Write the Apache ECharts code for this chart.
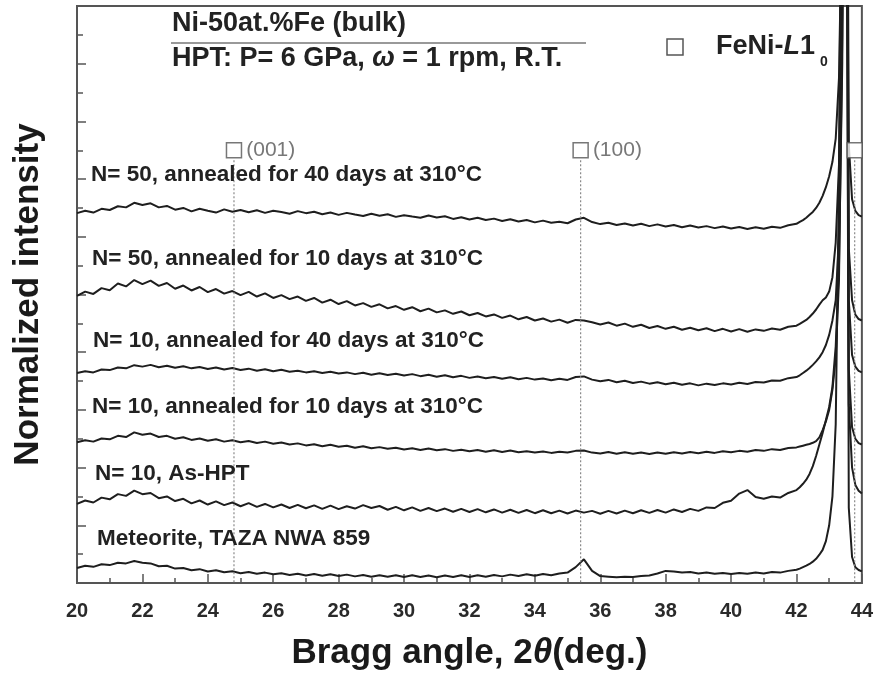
<!DOCTYPE html>
<html><head><meta charset="utf-8">
<script src="https://cdn.jsdelivr.net/npm/echarts@6/dist/echarts.min.js"></script>
<style>html,body{margin:0;padding:0;background:#fff}#c{width:876px;height:684px}</style>
</head><body><div id="c"></div>
<script>
// 2-theta angles (deg)
const angles = [20.00,20.25,20.50,20.75,21.00,21.25,21.50,21.75,22.00,22.25,22.50,22.75,23.00,23.25,23.50,23.75,24.00,24.25,24.50,24.75,25.00,25.25,25.50,25.75,26.00,26.25,26.50,26.75,27.00,27.25,27.50,27.75,28.00,28.25,28.50,28.75,29.00,29.25,29.50,29.75,30.00,30.25,30.50,30.75,31.00,31.25,31.50,31.75,32.00,32.25,32.50,32.75,33.00,33.25,33.50,33.75,34.00,34.25,34.50,34.75,35.00,35.25,35.50,35.75,36.00,36.25,36.50,36.75,37.00,37.25,37.50,37.75,38.00,38.25,38.50,38.75,39.00,39.25,39.50,39.75,40.00,40.25,40.50,40.75,41.00,41.25,41.50,41.75,42.00,
42.1,42.2,42.3,42.4,42.5,42.6,42.7,42.8,42.9,43.0,43.1,43.2,43.3,43.4,43.5,43.6,43.7,43.8,43.9,44.0];

// Normalized intensity (stacked, offset) for each pattern
const n50_40d = [12.82,12.90,12.84,12.97,12.93,13.06,13.02,13.18,13.10,13.16,13.02,13.07,12.94,13.00,12.88,12.97,12.90,12.84,12.95,12.87,12.93,12.85,12.92,12.83,12.90,12.86,12.80,12.89,12.82,12.87,12.78,12.84,12.76,12.83,12.77,12.72,12.80,12.73,12.78,12.69,12.75,12.70,12.66,12.74,12.67,12.71,12.62,12.68,12.60,12.66,12.58,12.63,12.55,12.61,12.53,12.58,12.50,12.56,12.49,12.52,12.47,12.60,12.66,12.51,12.44,12.49,12.41,12.46,12.39,12.45,12.37,12.43,12.36,12.41,12.33,12.39,12.32,12.37,12.30,12.36,12.29,12.34,12.27,12.33,12.28,12.35,12.31,12.40,12.45,
12.52,12.58,12.66,12.76,12.86,13.00,13.18,13.42,13.72,14.10,14.60,15.40,17.50,24.0,40.0,15.2,13.3,12.9,12.75,12.7];

const n50_10d = [9.95,10.10,10.02,10.22,10.15,10.38,10.28,10.50,10.36,10.48,10.30,10.40,10.20,10.31,10.14,10.26,10.08,10.19,10.03,10.12,9.98,10.09,9.93,10.04,9.88,9.98,9.84,9.93,9.78,9.88,9.72,9.82,9.67,9.77,9.62,9.70,9.57,9.66,9.52,9.60,9.47,9.56,9.42,9.51,9.38,9.45,9.33,9.41,9.28,9.36,9.24,9.31,9.19,9.27,9.14,9.22,9.10,9.17,9.06,9.13,9.02,9.12,9.10,9.04,8.96,9.03,8.92,8.99,8.88,8.95,8.84,8.91,8.81,8.88,8.78,8.85,8.76,8.83,8.73,8.81,8.72,8.80,8.71,8.79,8.74,8.82,8.78,8.88,8.92,
8.98,9.05,9.12,9.22,9.34,9.48,9.65,9.80,9.90,10.10,10.60,11.80,14.50,23.0,40.0,11.6,9.8,9.3,9.15,9.1];

const n10_40d = [7.28,7.34,7.30,7.40,7.38,7.47,7.44,7.55,7.50,7.56,7.48,7.53,7.46,7.51,7.44,7.49,7.42,7.47,7.40,7.45,7.38,7.43,7.36,7.41,7.34,7.39,7.32,7.36,7.30,7.34,7.28,7.32,7.26,7.30,7.24,7.29,7.22,7.27,7.21,7.25,7.19,7.24,7.17,7.22,7.15,7.20,7.13,7.18,7.11,7.16,7.10,7.14,7.08,7.13,7.06,7.11,7.05,7.09,7.03,7.08,7.04,7.14,7.16,7.05,6.99,7.04,6.96,7.01,6.93,6.98,6.91,6.96,6.89,6.94,6.87,6.92,6.85,6.91,6.86,6.92,6.88,6.94,6.90,6.97,6.95,7.02,7.01,7.10,7.14,
7.20,7.28,7.36,7.45,7.56,7.68,7.82,8.00,8.25,8.60,9.10,9.80,12.0,20.0,40.0,9.8,7.9,7.5,7.35,7.3];

const n10_10d = [4.88,4.95,4.90,5.01,4.98,5.10,5.06,5.22,5.14,5.18,5.06,5.10,5.00,5.05,4.96,5.01,4.93,4.98,4.90,4.95,4.88,4.92,4.85,4.90,4.83,4.87,4.80,4.84,4.77,4.81,4.74,4.79,4.72,4.76,4.69,4.74,4.67,4.71,4.65,4.69,4.63,4.67,4.61,4.66,4.60,4.64,4.58,4.62,4.57,4.61,4.55,4.60,4.54,4.59,4.53,4.57,4.52,4.56,4.51,4.55,4.52,4.58,4.59,4.52,4.49,4.54,4.48,4.53,4.48,4.52,4.47,4.52,4.48,4.53,4.49,4.54,4.50,4.55,4.51,4.57,4.53,4.58,4.55,4.61,4.58,4.64,4.61,4.68,4.70,
4.73,4.76,4.79,4.82,4.86,4.92,5.05,5.30,5.60,6.00,6.70,7.80,10.5,19.0,40.0,7.4,5.4,5.0,4.85,4.8];

const n10_asHPT = [2.74,2.86,2.79,2.96,2.90,3.08,3.02,3.20,3.08,3.12,2.94,3.00,2.84,2.92,2.76,2.86,2.72,2.83,2.70,2.79,2.66,2.77,2.64,2.74,2.62,2.72,2.60,2.71,2.59,2.69,2.57,2.68,2.56,2.66,2.58,2.70,2.60,2.67,2.54,2.64,2.52,2.62,2.50,2.60,2.49,2.58,2.47,2.57,2.46,2.56,2.45,2.55,2.44,2.54,2.43,2.53,2.42,2.52,2.42,2.51,2.41,2.51,2.44,2.50,2.40,2.50,2.41,2.51,2.42,2.52,2.43,2.53,2.44,2.55,2.46,2.57,2.50,2.62,2.60,2.78,2.85,3.10,3.22,2.98,2.92,3.00,2.96,3.12,3.22,
3.32,3.44,3.58,3.78,4.05,4.40,4.80,5.20,5.65,6.10,6.80,8.20,11.0,18.0,35.0,6.2,4.0,3.4,3.2,3.1];

const meteorite = [0.52,0.60,0.56,0.65,0.62,0.70,0.68,0.76,0.70,0.68,0.58,0.60,0.50,0.52,0.44,0.48,0.40,0.44,0.37,0.41,0.34,0.38,0.32,0.36,0.30,0.34,0.28,0.32,0.26,0.31,0.25,0.30,0.24,0.29,0.23,0.28,0.22,0.27,0.22,0.27,0.21,0.27,0.21,0.26,0.20,0.26,0.21,0.27,0.21,0.27,0.22,0.28,0.23,0.29,0.24,0.30,0.25,0.31,0.27,0.33,0.36,0.55,0.82,0.42,0.24,0.22,0.20,0.22,0.21,0.24,0.26,0.33,0.42,0.40,0.36,0.38,0.33,0.36,0.32,0.35,0.31,0.35,0.32,0.36,0.33,0.38,0.36,0.42,0.46,
0.50,0.55,0.60,0.66,0.74,0.84,0.98,1.15,1.45,2.00,3.00,5.50,14.0,30.0,40.0,2.6,0.9,0.55,0.45,0.4];

const patterns = [n50_40d, n50_10d, n10_40d, n10_10d, n10_asHPT, meteorite];
const patternNames = [
  'N= 50, annealed for 40 days at 310°C',
  'N= 50, annealed for 10 days at 310°C',
  'N= 10, annealed for 40 days at 310°C',
  'N= 10, annealed for 10 days at 310°C',
  'N= 10, As-HPT',
  'Meteorite, TAZA NWA 859'
];

// FeNi-L1_0 reflection markers
const peakAngles = [24.8, 35.4, 43.78];
const peakLabels = ['(001)', '(100)', ''];
const markerLevel = 15.0;
const dropTop = 14.65;

const FONT = 'Arial, "Liberation Sans", Helvetica, sans-serif';
const chart = echarts.init(document.getElementById('c'), null, {renderer: 'canvas'});

const series = [];
patterns.forEach((vals, k) => {
  series.push({
    name: patternNames[k], type: 'line', silent: true, showSymbol: false, symbol: 'none',
    clip: true, animation: false,
    data: angles.map((a, i) => [a, vals[i]]),
    lineStyle: {color: '#1e1e1e', width: 2}
  });
});
peakAngles.forEach(a => {
  series.push({
    type: 'line', silent: true, showSymbol: false, symbol: 'none', animation: false,
    data: [[a, dropTop], [a, 0]],
    lineStyle: {color: '#8a8a8a', width: 1.2, type: [2, 2]}
  });
});
series.push({
  type: 'scatter', silent: true, animation: false, symbol: 'rect', symbolSize: 15,
  data: peakAngles.map((a, i) => ({value: [a, markerLevel], label: {formatter: peakLabels[i]}})),
  itemStyle: {color: '#fff', borderColor: '#555', borderWidth: 1.5},
  label: {show: true, position: 'right', distance: 4, fontFamily: FONT, fontSize: 21, color: '#555'},
  z: 5
});

const labelPos = [[91, 174], [92, 258], [93, 340], [92, 406], [95, 473], [97, 538]];
const graphics = patternNames.map((t, k) => ({
  type: 'text', left: labelPos[k][0], top: labelPos[k][1] - 11, z: 10,
  style: {text: t, font: 'bold 22.5px ' + FONT, fill: '#222'}
}));
graphics.push(
  {type: 'text', left: 172, top: 10, z: 10, style: {text: 'Ni-50at.%Fe (bulk)', font: 'bold 27px ' + FONT, fill: '#222'}},
  {type: 'line', z: 10, shape: {x1: 171, y1: 43, x2: 586, y2: 43}, style: {stroke: '#999', lineWidth: 2}},
  {type: 'text', left: 172, top: 45, z: 10, style: {
    text: 'HPT: P= 6 GPa, {w|ω} = 1 rpm, R.T.', font: 'bold 27px ' + FONT, fill: '#222',
    rich: {w: {fontFamily: FONT, fontSize: 27, fontStyle: 'italic', fontWeight: 'bold', fill: '#222', color: '#222'}}
  }},
  {type: 'rect', z: 10, shape: {x: 667, y: 39, width: 16, height: 16}, style: {fill: '#fff', stroke: '#555', lineWidth: 1.5}},
  {type: 'text', left: 716, top: 33, z: 10, style: {
    text: 'FeNi-{i|L}1', font: 'bold 27px ' + FONT, fill: '#222',
    rich: {i: {fontFamily: FONT, fontSize: 27, fontStyle: 'italic', fontWeight: 'bold', fill: '#222', color: '#222'}}
  }},
  {type: 'text', left: 820, top: 55, z: 10, style: {text: '0', font: 'bold 14px ' + FONT, fill: '#222'}}
);

chart.setOption({
  animation: false,
  backgroundColor: '#fff',
  grid: {left: 77, right: 12, top: 6, bottom: 101, show: true, borderColor: '#555', borderWidth: 2, backgroundColor: 'transparent'},
  xAxis: {
    type: 'value', min: 20, max: 44, interval: 2,
    name: 'Bragg angle, 2{t|θ}(deg.)', nameLocation: 'middle', nameGap: 53,
    nameTextStyle: {fontFamily: FONT, fontSize: 35, fontWeight: 'bold', color: '#1a1a1a',
      rich: {t: {fontFamily: FONT, fontSize: 35, fontWeight: 'bold', fontStyle: 'italic', color: '#1a1a1a'}}},
    axisLine: {show: true, onZero: false, lineStyle: {color: '#555', width: 2}},
    axisTick: {show: true, inside: true, length: 9, lineStyle: {color: '#555', width: 1.5}},
    minorTick: {show: true, splitNumber: 2, length: 5, lineStyle: {color: '#555', width: 1.5}},
    axisLabel: {fontFamily: FONT, fontSize: 20, fontWeight: 'bold', color: '#2a2a2a', margin: 18},
    splitLine: {show: false}
  },
  yAxis: {
    type: 'value', min: 0, max: 20, interval: 2,
    name: 'Normalized intensity', nameLocation: 'middle', nameGap: 31,
    nameTextStyle: {fontFamily: FONT, fontSize: 35, fontWeight: 'bold', color: '#1a1a1a'},
    axisLine: {show: true, lineStyle: {color: '#555', width: 2}},
    axisTick: {show: true, inside: true, length: 9, lineStyle: {color: '#555', width: 1.5}},
    minorTick: {show: true, splitNumber: 2, length: 6, lineStyle: {color: '#555', width: 1.5}},
    axisLabel: {show: false},
    splitLine: {show: false}
  },
  series: series,
  graphic: graphics
});
</script></body></html>
